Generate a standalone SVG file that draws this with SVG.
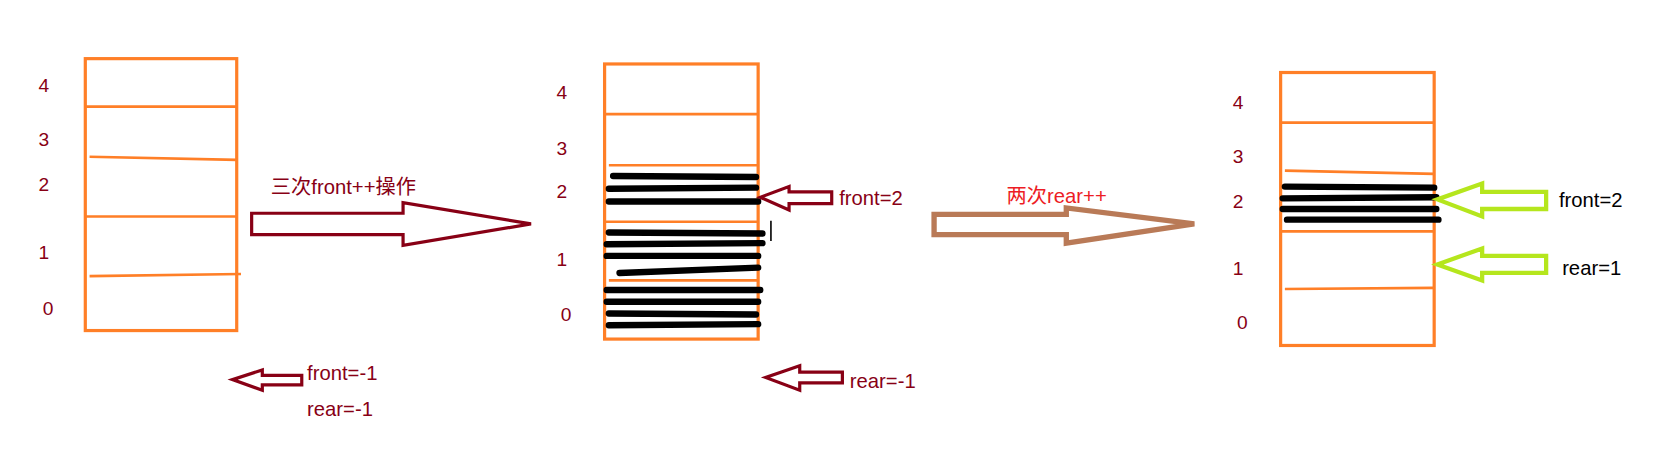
<svg xmlns="http://www.w3.org/2000/svg" width="1672" height="458" viewBox="0 0 1672 458">
<style>
.box{fill:none;stroke:#FF7F27;stroke-width:3}
.ln{stroke:#FF7F27;stroke-width:2.5;fill:none}
.lab{font-family:"Liberation Sans","Noto Sans CJK SC",sans-serif;font-size:18px;fill:#880015}
.txt{font-family:"Liberation Sans","Noto Sans CJK SC",sans-serif;font-size:19px;fill:#880015}
.blk{stroke:#000;stroke-width:6;stroke-linecap:round;fill:none}
.red{fill:none;stroke:#880015;stroke-width:3}
.grn{fill:none;stroke:#B5E61D;stroke-width:4}
</style>
<rect width="1672" height="458" fill="#fff"/>
<g transform="scale(1.0663)">
<g id="stack1">
<rect class="box" x="80" y="55" width="142" height="255"/>
<path class="ln" d="M80 100H222M84 147L222 150M80 203H222M84 259L226 257"/>
<text class="lab" x="36" y="86">4</text><text class="lab" x="36" y="137">3</text><text class="lab" x="36" y="179">2</text><text class="lab" x="36" y="243">1</text><text class="lab" x="40" y="295">0</text>
</g>
<g id="stack2">
<rect class="box" x="567" y="60" width="144" height="258"/>
<path class="ln" d="M567 107H711M571 155H711M567 208H711M571 263H711"/>
<path class="blk" d="M575 165L709 166M571 177L709 176M571 189L711 189M571 218L715 219M569 229L715 228M569 240L711 240M581 256L711 251M569 272L713 272M569 283L711 283M571 294L709 295M571 305L711 304"/>
<path d="M723 207V226" stroke="#000" stroke-width="1.5"/>
<text class="lab" x="522" y="93">4</text><text class="lab" x="522" y="145">3</text><text class="lab" x="522" y="186">2</text><text class="lab" x="522" y="249">1</text><text class="lab" x="526" y="301">0</text>
</g>
<g id="stack3">
<rect class="box" x="1201" y="68" width="144" height="256"/>
<path class="ln" d="M1201 115H1345M1205 160L1345 163M1201 217H1345M1205 271L1345 270"/>
<path class="blk" d="M1205 175L1345 176M1203 186L1347 185M1203 196L1347 196M1207 206L1349 206"/>
<text class="lab" x="1156" y="102">4</text><text class="lab" x="1156" y="153">3</text><text class="lab" x="1156" y="195">2</text><text class="lab" x="1156" y="258">1</text><text class="lab" x="1160" y="309">0</text>
</g>
<g id="connectors">
<path class="red" d="M236 200H378V190L498 210L378 230V220H236Z"/>
<path fill="none" stroke="#B97A57" stroke-width="5" d="M876 201H1000V195L1120 210L1000 228V220H876Z"/>
<path class="red" d="M780 180V191H740V197L713 185L740 175V180Z"/>
<path class="red" d="M283 352V361H246V366L218 356L246 347V352Z"/>
<path class="red" d="M790 349V359H750V366L718 354L750 343V349Z"/>
<path class="grn" d="M1450 180V196H1390V203L1348 187L1390 172V180Z"/>
<path class="grn" d="M1450 240V256H1390V263L1348 248L1390 233V240Z"/>
</g>
<text class="txt" x="254" y="182">三次front++操作</text>
<text x="944" y="190" font-family="Liberation Sans,Noto Sans CJK SC,sans-serif" font-size="19" fill="#ED1C24">两次rear++</text>
<text class="txt" x="787" y="192">front=2</text>
<text class="txt" x="288" y="356">front=-1</text>
<text class="txt" x="288" y="390">rear=-1</text>
<text class="txt" x="797" y="364">rear=-1</text>
<text x="1462" y="194" font-family="Liberation Sans,sans-serif" font-size="19" fill="#000">front=2</text>
<text x="1465" y="258" font-family="Liberation Sans,sans-serif" font-size="19" fill="#000">rear=1</text>
</g>
</svg>
